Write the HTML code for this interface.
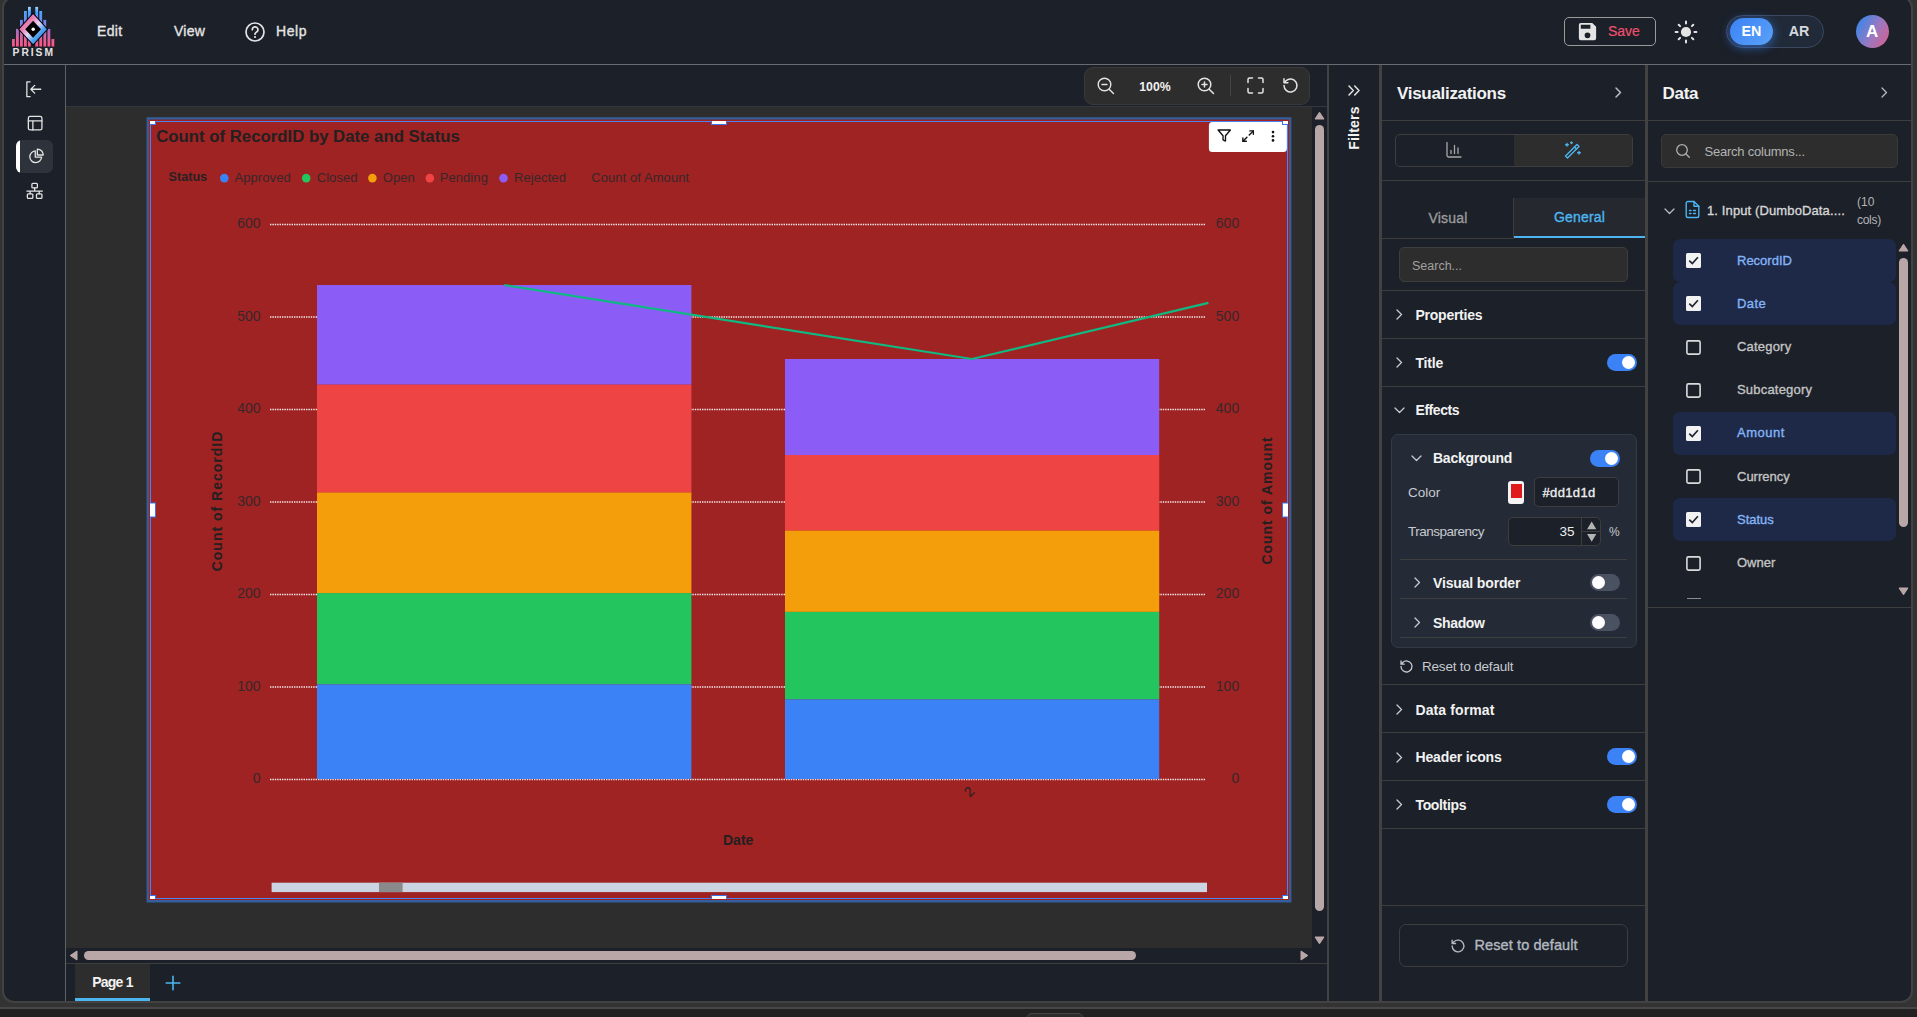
<!DOCTYPE html>
<html lang="en">
<head>
<meta charset="utf-8">
<title>Prism</title>
<style>
*{box-sizing:border-box;margin:0;padding:0}
html,body{width:1917px;height:1017px;overflow:hidden;background:#333333;font-family:"Liberation Sans",sans-serif;color:#e4e4e4}
.abs{position:absolute}
.t{position:absolute;white-space:nowrap;line-height:20px;height:20px;font-size:14px}
.b{font-weight:bold}
.sb{-webkit-text-stroke:0.35px currentColor}
#strip1{position:absolute;left:0;top:1007px;width:1917px;height:2px;background:#474747}
#strip2{position:absolute;left:0;top:1009px;width:1917px;height:8px;background:#212121}
#app{position:absolute;left:2px;top:-4px;width:1911px;height:1007px;border:2px solid #424242;border-radius:12px;background:#1b2029;overflow:hidden}
/* everything inside #root is positioned in page coordinates */
#root{position:absolute;left:-4px;top:2px;width:1917px;height:1017px}
.hl{position:absolute;height:1px;background:#3d3d3d}
.vl{position:absolute;width:1px;background:#3d3d3d}
svg{position:absolute;overflow:visible}
.ico{fill:none;stroke:#e4e4e4;stroke-width:1.5;stroke-linecap:round;stroke-linejoin:round}
.tog{position:absolute;width:30px;height:17px;border-radius:9px;background:#3b82f6}
.tog i{position:absolute;right:2px;top:2px;width:13px;height:13px;border-radius:50%;background:#fff}
.tog.off{background:#4a5160}
.tog.off i{right:auto;left:2px}
</style>
</head>
<body>
<div id="strip1"></div><div id="strip2"></div><div style="position:absolute;left:1026px;top:1013px;width:58px;height:12px;border:1px solid #454545;border-radius:6px;background:#2b2b2b"></div>
<div id="app"><div id="root">

<!-- ================= HEADER ================= -->
<div class="hl" style="left:0;top:64px;width:1917px;background:#686c72"></div>
<!--HDR-S-->
<svg style="left:0;top:0" width="66" height="64" viewBox="0 0 66 64">
<defs>
<linearGradient id="lgb" gradientUnits="userSpaceOnUse" x1="0" y1="7" x2="0" y2="46.5">
<stop offset="0" stop-color="#a4d8ff"/><stop offset="0.13" stop-color="#4aa3ff"/><stop offset="0.36" stop-color="#6a8cf0"/><stop offset="0.58" stop-color="#a86fc6"/><stop offset="0.8" stop-color="#e0609a"/><stop offset="1" stop-color="#ff5585"/>
</linearGradient>
<linearGradient id="lgd" gradientUnits="userSpaceOnUse" x1="22" y1="19" x2="44" y2="40">
<stop offset="0" stop-color="#e8609c"/><stop offset="0.25" stop-color="#e880b4"/><stop offset="0.5" stop-color="#e6d8f6"/><stop offset="0.75" stop-color="#4aa0f2"/><stop offset="1" stop-color="#2e96f0"/>
</linearGradient>
</defs>
<g fill="url(#lgb)">
<rect x="12" y="39" width="2.8" height="7.5"/><rect x="16" y="28.9" width="2.8" height="17.6"/><rect x="20" y="19.9" width="2.8" height="26.6"/><rect x="24" y="11" width="2.8" height="35.5"/><rect x="28" y="6.9" width="2.8" height="39.6"/>
<rect x="35.3" y="6.9" width="2.8" height="39.6"/><rect x="39.3" y="11" width="2.8" height="35.5"/><rect x="43.4" y="19.9" width="2.8" height="26.6"/><rect x="47.5" y="28.9" width="2.8" height="17.6"/><rect x="51.5" y="39" width="2.8" height="7.5"/>
</g>
<polygon points="33.1,12.6 48.2,29.2 33.1,45.8 18,29.2" fill="#000"/>
<polygon points="33.1,14.1 46.9,29.2 33.1,44.3 19.3,29.2" fill="url(#lgd)"/>
<polygon points="33.1,20.7 41,29.2 33.1,37.8 25.2,29.2" fill="#000"/>
<circle cx="33.2" cy="29.2" r="1.7" fill="#fff"/>
<text x="12.6" y="56" font-family="Liberation Sans, sans-serif" font-weight="bold" font-size="10.3" letter-spacing="1.95" fill="#e2e2e2">PRISM</text>
</svg>
<div class="t sb" style="left:97px;top:21px;color:#e4e4e4;letter-spacing:0.3px" id="tEdit">Edit</div>
<div class="t sb" style="left:174px;top:21px;color:#e4e4e4;letter-spacing:0.25px" id="tView">View</div>
<svg style="left:244px;top:21px" width="22" height="22" viewBox="0 0 22 22"><circle cx="11" cy="11" r="9" fill="none" stroke="#e4e4e4" stroke-width="1.7"/><path d="M8.3 8.7a2.8 2.8 0 1 1 4 2.5c-.9.5-1.3 1-1.3 2" fill="none" stroke="#e4e4e4" stroke-width="1.7" stroke-linecap="round"/><circle cx="11" cy="16" r="1.1" fill="#e4e4e4"/></svg>
<div class="t sb" style="left:276px;top:21px;color:#e4e4e4;letter-spacing:0.6px" id="tHelp">Help</div>

<div class="abs" style="left:1564px;top:17px;width:92px;height:29px;border:1px solid #9a9a9a;border-radius:5px"></div>
<svg style="left:1576.200px;top:20.400px" width="23" height="23" viewBox="0 0 24 24"><path fill="#e4e4e4" d="M17 3H5a2 2 0 0 0-2 2v14a2 2 0 0 0 2 2h14a2 2 0 0 0 2-2V7l-4-4zm-5 16a3 3 0 1 1 0-6 3 3 0 0 1 0 6zm3-10H5V5h10v4z"/></svg>
<div class="t" style="left:1608px;top:21px;color:#f0506e;-webkit-text-stroke:0.2px #f0506e" id="tSave">Save</div>
<svg style="left:1674.300px;top:19.500px" width="24" height="24" viewBox="0 0 24 24"><circle cx="12" cy="12" r="5.1" fill="#e4e4e4"/><g stroke="#e4e4e4" stroke-width="2" stroke-linecap="round"><path d="M12 1.600v2M12 20.400v2M1.600 12h2M20.400 12h2M4.700 4.700l1.400 1.400M17.900 17.900l1.400 1.400M4.700 19.300l1.400-1.400M17.900 6.100l1.400-1.400"/></g></svg>
<div class="abs" style="left:1726px;top:15px;width:98px;height:33px;border:1px solid #3a4960;border-radius:17px;background:#212a38"></div>
<div class="abs" style="left:1730px;top:18px;width:43px;height:27px;border-radius:14px;background:linear-gradient(135deg,#3b82f6,#5aa2f8);box-shadow:0 2px 10px 1px rgba(59,130,246,.55)"></div>
<div class="t b" style="left:1730px;top:20.600px;width:43px;text-align:center;font-size:14.300px;color:#fff">EN</div>
<div class="t b" style="left:1777.500px;top:20.600px;width:43px;text-align:center;font-size:14.300px;color:#d4d8de">AR</div>
<div class="abs" style="left:1855.500px;top:14.5px;width:33.5px;height:33.5px;border-radius:50%;background:linear-gradient(120deg,#3b86e8 10%,#9a78c0 55%,#d8608e 95%)"></div>
<div class="t b" style="left:1855.500px;top:21.5px;width:33.5px;text-align:center;font-size:17px;color:#fff">A</div>
<!--HDR-E-->

<!-- ================= SIDEBAR ================= -->
<div class="vl" style="left:65px;top:65px;height:940px;background:#5e6268"></div>
<!--SB-S-->
<svg style="left:24.900px;top:79.650px;stroke-width:1.400" width="18.500" height="18.500" viewBox="0 0 20 20" class="ico"><path d="M5.5 2H2v16h3.500M17 10H6.500M10.500 5.800L6.300 10l4.200 4.200"/></svg>
<svg style="left:26.900px;top:114.840px;stroke-width:1.430" width="16.300" height="16.300" viewBox="0 0 18 18" class="ico"><rect x="1.500" y="1.500" width="15" height="15" rx="2"/><path d="M1.500 6.500h15M6.500 6.500v10"/></svg>
<div class="abs" style="left:16px;top:140px;width:37px;height:33px;border-radius:6px;background:#2e323b;overflow:hidden"><div class="abs" style="left:0;top:0;width:4px;height:33px;background:#fff"></div></div>
<svg style="left:28.090px;top:148.060px;stroke-width:1.430" width="16.350" height="16.350" viewBox="0 0 18 18" class="ico"><path d="M8 3.200A6.500 6.500 0 1 0 15 10H8z"/><path d="M10.300 1.200v6.500h6.500a6.500 6.500 0 0 0-6.500-6.500z"/></svg>
<svg style="left:25.740px;top:182px;stroke-width:1.430" width="17.300" height="18.240" viewBox="0 0 19 20" class="ico"><rect x="6.500" y="1.500" width="6" height="5" rx="1"/><rect x="1.500" y="13" width="6" height="5" rx="1"/><rect x="11.500" y="13" width="6" height="5" rx="1"/><path d="M9.500 6.500v3.500M1 10h17M4.500 10v3M14.500 10v3"/></svg>
<!--SB-E-->

<!-- ================= CANVAS ================= -->
<div class="abs" style="left:66px;top:107px;width:1246px;height:841px;background:#2d2d2d"></div>
<div class="hl" style="left:66px;top:106px;width:1261px;background:#333840"></div>
<!--TB-S-->
<div class="abs" style="left:1084px;top:67px;width:226px;height:38px;border:1px solid #3a3a3a;border-radius:9px;background:#2d2d2d"></div>
<svg style="left:1096px;top:76px;stroke-width:1.4" width="20" height="20" viewBox="0 0 20 20" class="ico"><circle cx="8.500" cy="8.500" r="6.300"/><path d="M13.200 13.200L17.500 17.500M6 8.500h5"/></svg>
<div class="t b" style="left:1125px;top:76.500px;width:60px;text-align:center;font-size:12.300px;color:#f0f0f0" id="t100">100%</div>
<svg style="left:1196px;top:76px" width="20" height="20" viewBox="0 0 20 20" class="ico"><circle cx="8.500" cy="8.500" r="6.300"/><path d="M13.200 13.200L17.500 17.500M6 8.500h5M8.500 6v5"/></svg>
<div class="vl" style="left:1230px;top:75px;height:21px;background:#454545"></div>
<svg style="left:1247px;top:77px" width="17" height="17" viewBox="0 0 17 17" class="ico"><path d="M1 5.500V2.500a1.500 1.500 0 0 1 1.500-1.500h3M11.500 1h3a1.500 1.500 0 0 1 1.500 1.500v3M16 11.500v3a1.500 1.500 0 0 1-1.500 1.500h-3M5.500 16h-3A1.500 1.500 0 0 1 1 14.500v-3"/></svg>
<svg style="left:1282px;top:77px" width="17" height="17" viewBox="0 0 17 17" class="ico"><path d="M2 8.500a6.500 6.500 0 1 0 2-4.700L2 5.700M2 1.800v3.900h3.900"/></svg>
<!--TB-E-->
<!--CH-S-->
<svg style="left:0;top:0" width="1917" height="1017" viewBox="0 0 1917 1017" font-family="Liberation Sans, sans-serif">
<rect x="148.5" y="119.3" width="1141" height="781.2" fill="#a32220"/><rect x="151" y="122" width="1136" height="776" fill="#9f2323"/>
<path d="M146.6 117.3H1291.4V902.4H146.6z M148.9 119.6V900H1289.1V119.6z" fill="#345f9f" fill-rule="evenodd"/>
<rect x="150.5" y="121.5" width="1137" height="777" fill="none" stroke="#4b84f0" stroke-width="1"/>
<text x="156.2" y="141.8" font-size="16" font-weight="bold" fill="#241f20" id="cTitle" textLength="303.6" lengthAdjust="spacingAndGlyphs">Count of RecordID by Date and Status</text>
<text x="168.6" y="180.6" font-size="12.6" font-weight="bold" fill="#2a2023" id="lgStatus">Status</text>
<circle cx="224.3" cy="178.1" r="4.3" fill="#3b82f6"/>
<text x="234.5" y="181.8" letter-spacing="0.08" font-size="13" fill="#38272a" id="lgApproved">Approved</text>
<circle cx="306.2" cy="178.1" r="4.3" fill="#22c55e"/>
<text x="316.7" y="181.8" letter-spacing="0.08" font-size="13" fill="#38272a" id="lgClosed">Closed</text>
<circle cx="372.4" cy="178.1" r="4.3" fill="#f59e0b"/>
<text x="382.7" y="181.8" letter-spacing="0.08" font-size="13" fill="#38272a" id="lgOpen">Open</text>
<circle cx="429.8" cy="178.1" r="4.3" fill="#ef4444"/>
<text x="439.7" y="181.8" letter-spacing="0.08" font-size="13" fill="#38272a" id="lgPending">Pending</text>
<circle cx="503.5" cy="178.1" r="4.3" fill="#8b5cf6"/>
<text x="514.0" y="181.8" letter-spacing="0.08" font-size="13" fill="#38272a" id="lgRejected">Rejected</text>
<text x="591.2" y="181.8" letter-spacing="0.08" font-size="13" fill="#38272a" id="lgCoA">Count of Amount</text>
<line x1="270" y1="224.5" x2="1205.5" y2="224.5" stroke="#f6e8e8" stroke-width="1.3" stroke-dasharray="1.4 1"/>
<text x="260.6" y="228.0" font-size="14" text-anchor="end" fill="#38272a">600</text>
<text x="1239.2" y="228.0" font-size="14" text-anchor="end" fill="#38272a">600</text>
<line x1="270" y1="317.0" x2="1205.5" y2="317.0" stroke="#f6e8e8" stroke-width="1.3" stroke-dasharray="1.4 1"/>
<text x="260.6" y="320.5" font-size="14" text-anchor="end" fill="#38272a">500</text>
<text x="1239.2" y="320.5" font-size="14" text-anchor="end" fill="#38272a">500</text>
<line x1="270" y1="409.5" x2="1205.5" y2="409.5" stroke="#f6e8e8" stroke-width="1.3" stroke-dasharray="1.4 1"/>
<text x="260.6" y="413.0" font-size="14" text-anchor="end" fill="#38272a">400</text>
<text x="1239.2" y="413.0" font-size="14" text-anchor="end" fill="#38272a">400</text>
<line x1="270" y1="502.0" x2="1205.5" y2="502.0" stroke="#f6e8e8" stroke-width="1.3" stroke-dasharray="1.4 1"/>
<text x="260.6" y="505.5" font-size="14" text-anchor="end" fill="#38272a">300</text>
<text x="1239.2" y="505.5" font-size="14" text-anchor="end" fill="#38272a">300</text>
<line x1="270" y1="594.5" x2="1205.5" y2="594.5" stroke="#f6e8e8" stroke-width="1.3" stroke-dasharray="1.4 1"/>
<text x="260.6" y="598.0" font-size="14" text-anchor="end" fill="#38272a">200</text>
<text x="1239.2" y="598.0" font-size="14" text-anchor="end" fill="#38272a">200</text>
<line x1="270" y1="687.0" x2="1205.5" y2="687.0" stroke="#f6e8e8" stroke-width="1.3" stroke-dasharray="1.4 1"/>
<text x="260.6" y="690.5" font-size="14" text-anchor="end" fill="#38272a">100</text>
<text x="1239.2" y="690.5" font-size="14" text-anchor="end" fill="#38272a">100</text>
<line x1="270" y1="779.5" x2="1205.5" y2="779.5" stroke="#f6e8e8" stroke-width="1.3" stroke-dasharray="1.4 1"/>
<text x="260.6" y="783.0" font-size="14" text-anchor="end" fill="#38272a">0</text>
<text x="1239.2" y="783.0" font-size="14" text-anchor="end" fill="#38272a">0</text>
<rect x="317" y="285" width="374.4" height="99.69999999999999" fill="#8b5cf6"/>
<rect x="317" y="384.7" width="374.4" height="107.80000000000001" fill="#ef4444"/>
<rect x="317" y="492.5" width="374.4" height="100.60000000000002" fill="#f59e0b"/>
<rect x="317" y="593.1" width="374.4" height="91.19999999999993" fill="#22c55e"/>
<rect x="317" y="684.3" width="374.4" height="94.70000000000005" fill="#3b82f6"/>
<rect x="785" y="359" width="374.20000000000005" height="96" fill="#8b5cf6"/>
<rect x="785" y="455" width="374.20000000000005" height="75.60000000000002" fill="#ef4444"/>
<rect x="785" y="530.6" width="374.20000000000005" height="81.29999999999995" fill="#f59e0b"/>
<rect x="785" y="611.9" width="374.20000000000005" height="87.5" fill="#22c55e"/>
<rect x="785" y="699.4" width="374.20000000000005" height="79.60000000000002" fill="#3b82f6"/>
<polyline points="504.25,285 972,359 1208.4,302.9" fill="none" stroke="#10b981" stroke-width="2.2"/>
<text transform="translate(221.9,501) rotate(-90)" text-anchor="middle" font-size="14" font-weight="bold" letter-spacing="1.0" fill="#241f20" id="axL">Count of RecordID</text>
<text transform="translate(1271.7,500.5) rotate(-90)" text-anchor="middle" font-size="14" font-weight="bold" letter-spacing="0.95" fill="#241f20" id="axR">Count of Amount</text>
<text transform="translate(969,791.4) rotate(-45)" text-anchor="middle" font-size="14" fill="#241f20" dy="5">2</text>
<text x="723" y="845.1" font-size="14" font-weight="bold" fill="#241f20">Date</text>
<rect x="271.6" y="882.7" width="935.4" height="9.4" fill="#cbd5e1"/>
<rect x="379" y="882.7" width="23.6" height="9.4" fill="#8a8a8a"/>
<rect x="1208.9" y="122.1" width="78" height="29.8" rx="3.5" fill="#fff"/>
<g fill="none" stroke="#111" stroke-width="2.2" stroke-linecap="round" stroke-linejoin="round">
<g transform="translate(1216.88,128.12) scale(0.615)"><polygon points="22 3 2 3 10 12.46 10 19 14 21 14 12.46 22 3"/></g>
<g transform="translate(1241.14,129.14) scale(0.58)" stroke-width="2.4"><polyline points="15 3 21 3 21 9"/><polyline points="9 21 3 21 3 15"/><line x1="21" y1="3" x2="14" y2="10"/><line x1="3" y1="21" x2="10" y2="14"/></g>
</g>
<circle cx="1273" cy="132.1" r="1.3" fill="#111"/><circle cx="1273" cy="136.2" r="1.3" fill="#111"/><circle cx="1273" cy="140.4" r="1.3" fill="#111"/>
<clipPath id="cpc"><rect x="150" y="121" width="1138" height="778"/></clipPath><g clip-path="url(#cpc)">
<rect x="146.5" y="117.5" width="9" height="7" fill="#fff" stroke="#3b74e8" stroke-width="1"/>
<rect x="711.5" y="117.5" width="15" height="7" fill="#fff" stroke="#3b74e8" stroke-width="1"/>
<rect x="1282.5" y="117.5" width="9" height="7" fill="#fff" stroke="#3b74e8" stroke-width="1"/>
<rect x="146.5" y="503" width="9" height="14" fill="#fff" stroke="#3b74e8" stroke-width="1"/>
<rect x="1282.5" y="503" width="9" height="14" fill="#fff" stroke="#3b74e8" stroke-width="1"/>
<rect x="146.5" y="895.5" width="9" height="7" fill="#fff" stroke="#3b74e8" stroke-width="1"/>
<rect x="711.5" y="895.5" width="15" height="7" fill="#fff" stroke="#3b74e8" stroke-width="1"/>
<rect x="1282.5" y="895.5" width="9" height="7" fill="#fff" stroke="#3b74e8" stroke-width="1"/>
</g>
</svg>
<!--CH-E-->
<!--SC-S-->
<div class="abs" style="left:1314.500px;top:125px;width:9.500px;height:786px;border-radius:5px;background:#b9a7a7"></div>
<svg style="left:1314px;top:111px" width="11" height="9" viewBox="0 0 11 9"><path d="M5.5 1.200L10 8H1z" fill="#b9a7a7" stroke="#b9a7a7" stroke-width="1" stroke-linejoin="round"/></svg>
<svg style="left:1314px;top:936px" width="11" height="9" viewBox="0 0 11 9"><path d="M5.5 7.800L10 1H1z" fill="#b9a7a7" stroke="#b9a7a7" stroke-width="1" stroke-linejoin="round"/></svg>
<div class="abs" style="left:84px;top:951px;width:1052px;height:9px;border-radius:5px;background:#b9a7a7"></div>
<svg style="left:69px;top:950px" width="9" height="11" viewBox="0 0 9 11"><path d="M1.200 5.500L8 1v9z" fill="#b9a7a7" stroke="#b9a7a7" stroke-width="1" stroke-linejoin="round"/></svg>
<svg style="left:1299.500px;top:950px" width="9" height="11" viewBox="0 0 9 11"><path d="M7.800 5.500L1 1v9z" fill="#b9a7a7" stroke="#b9a7a7" stroke-width="1" stroke-linejoin="round"/></svg>
<div class="hl" style="left:66px;top:963px;width:1261px"></div>
<!--SC-E-->
<!--PT-S-->
<div class="abs" style="left:75px;top:964px;width:75px;height:37px;background:#2d2d2d;border-bottom:3px solid #4db5ef"></div>
<div class="t b" style="left:75px;top:971.500px;width:75px;text-align:center;color:#f2f2f2;letter-spacing:-0.800px" id="tPage">Page 1</div>
<svg style="left:165px;top:975px" width="16" height="16" viewBox="0 0 16 16"><path d="M8 1.200v13.600M1.200 8h13.600" stroke="#4db5ef" stroke-width="1.600" stroke-linecap="round" fill="none"/></svg>
<!--PT-E-->

<!-- ================= FILTERS ================= -->
<div class="vl" style="left:1327px;top:65px;height:940px;width:2px;background:#424242"></div>
<!--FL-S-->
<svg style="left:1347px;top:84px" width="14" height="13" viewBox="0 0 14 13" class="ico"><path d="M2 2l4.300 4.500L2 11M7.700 2l4.300 4.500L7.700 11"/></svg>
<div class="t b" style="left:1304px;top:117.500px;width:100px;text-align:center;transform:rotate(-90deg);color:#f2f2f2;letter-spacing:0.220px" id="tFilters">Filters</div>
<!--FL-E-->

<!-- ================= VIZ PANEL ================= -->
<div class="vl" style="left:1379px;top:65px;height:940px;width:3px;background:#424242"></div>
<!--VZ-S-->
<div class="t b" style="left:1397px;top:83.500px;font-size:17px;color:#f2f2f2;letter-spacing:-0.300px" id="vTitle">Visualizations</div>
<svg style="left:1612px;top:86px;stroke:#b8bcc2" width="12" height="13" viewBox="0 0 12 13" class="ico"><path d="M4 2l4.500 4.500L4 11"/></svg>
<div class="hl" style="left:1382px;top:120px;width:263px"></div>
<div class="abs" style="left:1395px;top:134px;width:238px;height:33px;border:1px solid #3d3d3d;border-radius:5px;overflow:hidden"><div class="abs" style="left:118px;top:0;width:119px;height:31px;background:#2d2d2d"></div></div>
<svg style="left:1445px;top:141px;stroke:#a8a8a8;stroke-width:1.3" width="18" height="18" viewBox="0 0 18 18" class="ico"><path d="M2 1.500v13a1.500 1.500 0 0 0 1.500 1.500H16M6 12.500v-3M9.500 12.500v-8M13 12.500v-5.500"/></svg>
<svg style="left:1563px;top:141px;stroke:#4db5ef;stroke-width:1.4" width="19" height="18" viewBox="0 0 19 18" class="ico"><path d="M2.500 15L14 3.500l2 2L4.500 17z"/><path d="M11.500 6l2 2"/><path d="M4 2.500v2.600M2.700 3.800h2.600M8.500 1v1.600M7.700 1.800h1.600M16 10.500v2.600M14.700 11.800h2.600"/></svg>
<div class="hl" style="left:1382px;top:180px;width:263px"></div>
<div class="abs" style="left:1514px;top:198px;width:131px;height:40px;background:#25282e;border-bottom:2.500px solid #4db5ef"></div>
<div class="hl" style="left:1382px;top:238px;width:132px"></div>
<div class="vl" style="left:1513px;top:198px;height:40px"></div>
<div class="t sb" style="left:1382px;top:208px;width:132px;text-align:center;color:#9b9b9b;letter-spacing:0.2px" id="vVisual">Visual</div>
<div class="t sb" style="left:1514px;top:207px;width:131px;text-align:center;color:#4db5ef;letter-spacing:0.2px" id="vGeneral">General</div>
<div class="abs" style="left:1399px;top:247px;width:229px;height:35px;border:1px solid #3d3d3d;border-radius:5px;background:#2d2d2d"></div>
<div class="t" style="left:1412px;top:255.500px;font-size:12.500px;color:#a0a0a0" id="vSearch">Search...</div>
<div class="hl" style="left:1382px;top:290px;width:263px"></div>
<div class="hl" style="left:1382px;top:338px;width:263px"></div>
<div class="hl" style="left:1382px;top:386px;width:263px"></div>
<svg style="left:1393px;top:308px;stroke:#c8ccd2;stroke-width:1.300" width="12" height="13" viewBox="0 0 12 13" class="ico"><path d="M4 2l4.500 4.500L4 11"/></svg>
<div class="t b" style="left:1415.500px;top:305px;color:#f2f2f2;letter-spacing:-0.25px" id="vProp">Properties</div>
<svg style="left:1393px;top:356px;stroke:#c8ccd2;stroke-width:1.300" width="12" height="13" viewBox="0 0 12 13" class="ico"><path d="M4 2l4.500 4.500L4 11"/></svg>
<div class="t b" style="left:1415.500px;top:353px;color:#f2f2f2;letter-spacing:-0.2px" id="vTitle2">Title</div>
<div class="tog" style="left:1607px;top:354px"><i></i></div>
<svg style="left:1392.500px;top:404px;stroke:#c8ccd2;stroke-width:1.300" width="13" height="12" viewBox="0 0 13 12" class="ico"><path d="M2 4l4.500 4.500L11 4"/></svg>
<div class="t b" style="left:1415.500px;top:400px;color:#f2f2f2;letter-spacing:-0.45px" id="vEffects">Effects</div>
<!-- effects box -->
<div class="abs" style="left:1391px;top:434px;width:246px;height:214px;border:1px solid #343b47;border-radius:7px;background:#252b36"></div>
<svg style="left:1409.500px;top:452px;stroke:#c8ccd2;stroke-width:1.300" width="13" height="12" viewBox="0 0 13 12" class="ico"><path d="M2 4l4.500 4.500L11 4"/></svg>
<div class="t b" style="left:1433px;top:448px;color:#f2f2f2;letter-spacing:-0.25px" id="vBg">Background</div>
<div class="tog" style="left:1589.500px;top:449.500px"><i></i></div>
<div class="t" style="left:1408px;top:482.500px;font-size:13.500px;color:#c6cad0" id="vColor">Color</div>
<div class="abs" style="left:1507.500px;top:481px;width:16.500px;height:23px;border-radius:3px;background:#f4f4f4"></div>
<div class="abs" style="left:1510.500px;top:484px;width:11px;height:14px;background:#e01b1b"></div>
<div class="abs" style="left:1534px;top:477px;width:85px;height:29.500px;border:1px solid #3d3d3d;border-radius:5px;background:#1b2029"></div>
<div class="t sb" style="left:1542.500px;top:482.500px;font-size:13px;color:#eeeeee;letter-spacing:0.35px" id="vHex">#dd1d1d</div>
<div class="t" style="left:1408px;top:521.500px;font-size:13.500px;color:#c6cad0;letter-spacing:-0.5px" id="vTrans">Transparency</div>
<div class="abs" style="left:1507.500px;top:516.500px;width:93.500px;height:29.500px;border:1px solid #3d3d3d;border-radius:5px;background:#1b2029"></div>
<div class="t" style="left:1540px;top:522px;width:34.500px;text-align:right;font-size:13.500px;color:#eeeeee" id="v35">35</div>
<div class="vl" style="left:1581px;top:518px;height:27px;background:#3d3d3d"></div>
<div class="hl" style="left:1582px;top:531px;width:18px;background:#3d3d3d"></div>
<svg style="left:1586px;top:520px" width="12" height="23" viewBox="0 0 12 23"><path d="M5.700 1.500l4.600 7.800H1.100zM5.700 21.800l4.600-7.800H1.100z" fill="#b4b4b4"/></svg>
<div class="t" style="left:1609px;top:522px;font-size:12px;color:#c6cad0" id="vPct">%</div>
<div class="hl" style="left:1400px;top:559px;width:227px;background:#3f3f3f"></div>
<svg style="left:1410.500px;top:576px;stroke:#c8ccd2;stroke-width:1.300" width="12" height="13" viewBox="0 0 12 13" class="ico"><path d="M4 2l4.500 4.500L4 11"/></svg>
<div class="t b" style="left:1433px;top:573px;color:#f2f2f2;letter-spacing:-0.15px" id="vVB">Visual border</div>
<div class="tog off" style="left:1589.500px;top:574px"><i></i></div>
<div class="hl" style="left:1400px;top:598px;width:227px;background:#3f3f3f"></div>
<svg style="left:1410.500px;top:615.500px;stroke:#c8ccd2;stroke-width:1.300" width="12" height="13" viewBox="0 0 12 13" class="ico"><path d="M4 2l4.500 4.500L4 11"/></svg>
<div class="t b" style="left:1433px;top:612.500px;color:#f2f2f2;letter-spacing:-0.35px" id="vSh">Shadow</div>
<div class="tog off" style="left:1589.500px;top:614px"><i></i></div>
<div class="hl" style="left:1400px;top:637px;width:227px;background:#3f3f3f"></div>
<svg style="left:1399px;top:659px;stroke:#c6cad0;stroke-width:1.300" width="15" height="15" viewBox="0 0 15 15" class="ico"><path d="M2 7.500a5.500 5.500 0 1 0 1.700-4L2 5.200M2 2v3.200h3.200"/></svg>
<div class="t" style="left:1422px;top:656.500px;font-size:13.500px;color:#c6cad0;letter-spacing:-0.2px" id="vReset">Reset to default</div>
<div class="hl" style="left:1382px;top:684px;width:263px"></div>
<svg style="left:1393px;top:702.500px;stroke:#c8ccd2;stroke-width:1.300" width="12" height="13" viewBox="0 0 12 13" class="ico"><path d="M4 2l4.500 4.500L4 11"/></svg>
<div class="t b" style="left:1415.500px;top:699.500px;color:#f2f2f2;letter-spacing:0.1px" id="vDF">Data format</div>
<div class="hl" style="left:1382px;top:732px;width:263px"></div>
<svg style="left:1393px;top:750.500px;stroke:#c8ccd2;stroke-width:1.300" width="12" height="13" viewBox="0 0 12 13" class="ico"><path d="M4 2l4.500 4.500L4 11"/></svg>
<div class="t b" style="left:1415.500px;top:747px;color:#f2f2f2;letter-spacing:-0.15px" id="vHI">Header icons</div>
<div class="tog" style="left:1607px;top:747.700px"><i></i></div>
<div class="hl" style="left:1382px;top:780px;width:263px"></div>
<svg style="left:1393px;top:798px;stroke:#c8ccd2;stroke-width:1.300" width="12" height="13" viewBox="0 0 12 13" class="ico"><path d="M4 2l4.500 4.500L4 11"/></svg>
<div class="t b" style="left:1415.500px;top:794.500px;color:#f2f2f2;letter-spacing:-0.35px" id="vTT">Tooltips</div>
<div class="tog" style="left:1607px;top:796px"><i></i></div>
<div class="hl" style="left:1382px;top:828px;width:263px"></div>
<div class="hl" style="left:1382px;top:905px;width:263px"></div>
<div class="abs" style="left:1399px;top:923.500px;width:229px;height:43.500px;border:1px solid #3d3d3d;border-radius:7px"></div>
<svg style="left:1450px;top:937.500px;stroke:#b4b9c0;stroke-width:1.300" width="16" height="16" viewBox="0 0 15 15" class="ico"><path d="M2 7.500a5.500 5.500 0 1 0 1.700-4L2 5.200M2 2v3.200h3.200"/></svg>
<div class="t sb" style="left:1474.500px;top:935px;font-size:14.500px;color:#b4b9c0;letter-spacing:0.1px" id="vReset2">Reset to default</div>
<!--VZ-E-->

<!-- ================= DATA PANEL ================= -->
<div class="vl" style="left:1645px;top:65px;height:940px;width:3px;background:#424242"></div>
<!--DT-S-->
<div class="t b" style="left:1662.500px;top:83.500px;font-size:17px;color:#f2f2f2;letter-spacing:-0.300px" id="dTitle">Data</div>
<svg style="left:1877.500px;top:86px;stroke:#b8bcc2;stroke-width:1.300" width="12" height="13" viewBox="0 0 12 13" class="ico"><path d="M4 2l4.500 4.500L4 11"/></svg>
<div class="hl" style="left:1648px;top:120px;width:264px"></div>
<div class="abs" style="left:1661px;top:134px;width:237px;height:34px;border:1px solid #3a3a3a;border-radius:5px;background:#2d2d2d"></div>
<svg style="left:1675px;top:143px;stroke:#b0b0b0;stroke-width:1.300" width="16" height="16" viewBox="0 0 16 16" class="ico"><circle cx="7" cy="7" r="5.300"/><path d="M11 11l3.300 3.300"/></svg>
<div class="t" style="left:1704.500px;top:141.500px;font-size:13px;color:#b4b4b4;letter-spacing:-0.220px" id="dSearch">Search columns...</div>
<div class="hl" style="left:1648px;top:181px;width:264px"></div>
<svg style="left:1662.500px;top:204.500px;stroke:#b8bcc2;stroke-width:1.300" width="13" height="12" viewBox="0 0 13 12" class="ico"><path d="M2 4l4.500 4.500L11 4"/></svg>
<svg style="left:1684px;top:200px;stroke:#4db5ef;stroke-width:1.400" width="17" height="19" viewBox="0 0 17 19" class="ico"><path d="M10 1.500H4a1.800 1.800 0 0 0-1.800 1.800v12.400A1.800 1.800 0 0 0 4 17.500h9a1.800 1.800 0 0 0 1.800-1.800V6.300z"/><path d="M10 1.500v4.800h4.800M5.500 10.500h1.500M9.500 10.500h2M5.500 13.500h1.500M9.500 13.500h2"/></svg>
<div class="t sb" style="left:1707px;top:200.500px;font-size:13px;color:#d6d6d6;letter-spacing:0.120px" id="dInput">1. Input (DumboData....</div>
<div class="t" style="left:1857px;top:192px;font-size:12px;color:#b4b4b4" id="d10">(10</div>
<div class="t" style="left:1857px;top:210px;font-size:12px;color:#b4b4b4;letter-spacing:-0.300px" id="dcols">cols)</div>
<div class="abs" style="left:1673px;top:239.10px;width:223px;height:43.20px;border-radius:7px;background:#1e2947"></div>
<svg style="left:1686px;top:253.10px" width="15" height="15" viewBox="0 0 15 15"><rect x="0" y="0" width="15" height="15" rx="1.500" fill="#f2f2f2"/><path d="M3.300 7.600l3 3 5.600-6.300" fill="none" stroke="#1e2430" stroke-width="1.700"/></svg>
<div class="t sb" style="left:1737px;top:250.60px;font-size:13px;color:#84b4f6;letter-spacing:0px" id="dRecordID">RecordID</div>
<div class="abs" style="left:1673px;top:282.30px;width:223px;height:43.20px;border-radius:7px;background:#1e2947"></div>
<svg style="left:1686px;top:296.30px" width="15" height="15" viewBox="0 0 15 15"><rect x="0" y="0" width="15" height="15" rx="1.500" fill="#f2f2f2"/><path d="M3.300 7.600l3 3 5.600-6.300" fill="none" stroke="#1e2430" stroke-width="1.700"/></svg>
<div class="t sb" style="left:1737px;top:293.80px;font-size:13px;color:#84b4f6;letter-spacing:0.4px" id="dDate">Date</div>
<svg style="left:1686px;top:339.50px" width="15" height="15" viewBox="0 0 15 15"><rect x="0.900" y="0.900" width="13.200" height="13.200" rx="1.500" fill="none" stroke="#dcdcdc" stroke-width="1.600"/></svg>
<div class="t sb" style="left:1737px;top:337.00px;font-size:13px;color:#c4c4c4;letter-spacing:0.2px" id="dCategory">Category</div>
<svg style="left:1686px;top:382.70px" width="15" height="15" viewBox="0 0 15 15"><rect x="0.900" y="0.900" width="13.200" height="13.200" rx="1.500" fill="none" stroke="#dcdcdc" stroke-width="1.600"/></svg>
<div class="t sb" style="left:1737px;top:380.20px;font-size:13px;color:#c4c4c4;letter-spacing:0.2px" id="dSubcategory">Subcategory</div>
<div class="abs" style="left:1673px;top:411.90px;width:223px;height:43.20px;border-radius:7px;background:#1e2947"></div>
<svg style="left:1686px;top:425.90px" width="15" height="15" viewBox="0 0 15 15"><rect x="0" y="0" width="15" height="15" rx="1.500" fill="#f2f2f2"/><path d="M3.300 7.600l3 3 5.600-6.300" fill="none" stroke="#1e2430" stroke-width="1.700"/></svg>
<div class="t sb" style="left:1737px;top:423.40px;font-size:13px;color:#84b4f6;letter-spacing:0.5px" id="dAmount">Amount</div>
<svg style="left:1686px;top:469.10px" width="15" height="15" viewBox="0 0 15 15"><rect x="0.900" y="0.900" width="13.200" height="13.200" rx="1.500" fill="none" stroke="#dcdcdc" stroke-width="1.600"/></svg>
<div class="t sb" style="left:1737px;top:466.60px;font-size:13px;color:#c4c4c4;letter-spacing:0px" id="dCurrency">Currency</div>
<div class="abs" style="left:1673px;top:498.30px;width:223px;height:43.20px;border-radius:7px;background:#1e2947"></div>
<svg style="left:1686px;top:512.30px" width="15" height="15" viewBox="0 0 15 15"><rect x="0" y="0" width="15" height="15" rx="1.500" fill="#f2f2f2"/><path d="M3.300 7.600l3 3 5.600-6.300" fill="none" stroke="#1e2430" stroke-width="1.700"/></svg>
<div class="t sb" style="left:1737px;top:509.80px;font-size:13px;color:#84b4f6;letter-spacing:0px" id="dStatus">Status</div>
<svg style="left:1686px;top:555.50px" width="15" height="15" viewBox="0 0 15 15"><rect x="0.900" y="0.900" width="13.200" height="13.200" rx="1.500" fill="none" stroke="#dcdcdc" stroke-width="1.600"/></svg>
<div class="t sb" style="left:1737px;top:553.00px;font-size:13px;color:#c4c4c4;letter-spacing:0px" id="dOwner">Owner</div>
<div class="abs" style="left:1686.500px;top:598px;width:14px;height:1px;background:#8c8c8c"></div>
<svg style="left:1898px;top:242.500px" width="11" height="9" viewBox="0 0 11 9"><path d="M5.500 1.200L10 8H1z" fill="#b9a7a7" stroke="#b9a7a7" stroke-width="1" stroke-linejoin="round"/></svg>
<div class="abs" style="left:1899px;top:257.500px;width:9px;height:269.500px;border-radius:5px;background:#b9a7a7"></div>
<svg style="left:1898px;top:587px" width="11" height="9" viewBox="0 0 11 9"><path d="M5.500 7.800L10 1H1z" fill="#b9a7a7" stroke="#b9a7a7" stroke-width="1" stroke-linejoin="round"/></svg>
<div class="hl" style="left:1648px;top:607px;width:264px"></div>
<!--DT-E-->

</div></div>
</body>
</html>
